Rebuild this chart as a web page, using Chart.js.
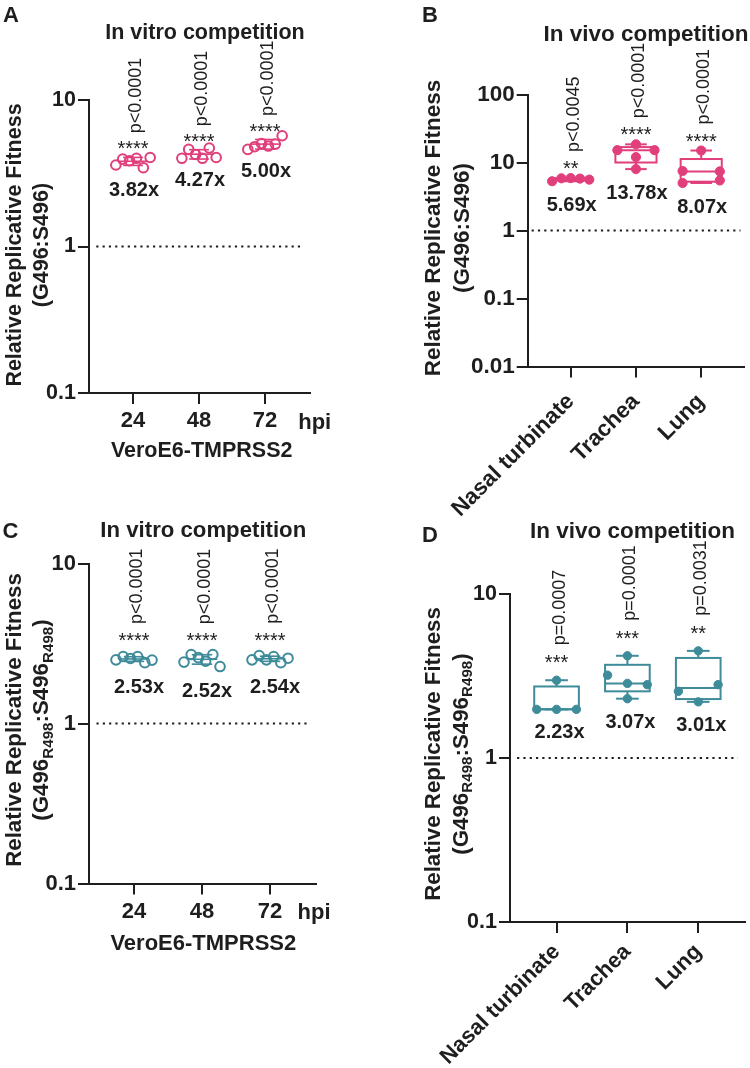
<!DOCTYPE html>
<html>
<head>
<meta charset="utf-8">
<script src="https://cdn.jsdelivr.net/npm/chart.js@4.4.1/dist/chart.umd.min.js"></script>
<style>
  html, body { margin:0; padding:0; background:#fff; }
  body { width:750px; height:1068px; position:relative; overflow:hidden;
         font-family:"Liberation Sans", Arial, Helvetica, sans-serif; color:#1e1e1e; }
  .t { position:absolute; white-space:nowrap; font-weight:bold; line-height:1;
       transform:translate(-50%,-50%); }
  .rot { transform:translate(-50%,-50%) rotate(-90deg); text-align:center; }
  .rot sub { font-size:68%; vertical-align:-0.28em; line-height:0; }
  canvas { position:absolute; }
</style>
</head>
<body>
<canvas id="cA" width="375" height="470" style="left:0;top:0"></canvas>
<canvas id="cB" width="375" height="520" style="left:375px;top:0"></canvas>
<canvas id="cC" width="375" height="480" style="left:0;top:520px"></canvas>
<canvas id="cD" width="375" height="548" style="left:375px;top:520px"></canvas>

<!-- panel letters -->
<div class="t" style="left:11px;top:14.7px;font-size:22px">A</div>
<div class="t" style="left:430px;top:14.7px;font-size:22px">B</div>
<div class="t" style="left:10.5px;top:531.3px;font-size:22px">C</div>
<div class="t" style="left:430px;top:535px;font-size:22px">D</div>

<!-- titles -->
<div class="t" style="left:205px;top:33.4px;font-size:21.5px">In vitro competition</div>
<div class="t" style="left:646px;top:33.8px;font-size:22.5px">In vivo competition</div>
<div class="t" style="left:203.3px;top:530px;font-size:22.2px">In vitro competition</div>
<div class="t" style="left:632.5px;top:530.5px;font-size:22.5px">In vivo competition</div>

<!-- y-axis titles -->
<div class="t rot" style="left:27.5px;top:245px;font-size:21.5px;line-height:27px">Relative Replicative Fitness<br>(G496:S496)</div>
<div class="t rot" style="left:447px;top:228px;font-size:22.5px;line-height:29px">Relative Replicative Fitness<br>(G496:S496)</div>
<div class="t rot" style="left:27.5px;top:720px;font-size:22.3px;line-height:26.6px">Relative Replicative Fitness<br>(G496<sub>R498</sub>:S496<sub>R498</sub>)</div>
<div class="t rot" style="left:446.6px;top:754px;font-size:22.3px;line-height:28.3px">Relative Replicative Fitness<br>(G496<sub>R498</sub>:S496<sub>R498</sub>)</div>

<!-- x-axis titles and units -->
<div class="t" style="left:201.7px;top:450.5px;font-size:21.5px">VeroE6-TMPRSS2</div>
<div class="t" style="left:203.3px;top:943.3px;font-size:22px">VeroE6-TMPRSS2</div>
<div class="t" style="left:314.7px;top:421.5px;font-size:22px">hpi</div>
<div class="t" style="left:314px;top:911.7px;font-size:22px">hpi</div>

<script>
// ---------------- DATA ----------------
const hpiLabels    = ['24', '48', '72'];
const tissueLabels = ['Nasal turbinate', 'Trachea', 'Lung'];

// shared reference level (dotted line)
const referenceLevel = 1;

// Panel A: G496:S496, VeroE6-TMPRSS2 (replicates per time point)
const aHpi24 = [3.6, 3.95, 3.85, 4.0, 3.45, 4.05];
const aHpi48 = [4.0, 4.6, 4.25, 4.0, 4.7, 4.05];
const aHpi72 = [4.6, 4.8, 5.05, 4.85, 5.0, 5.7];
const aFold  = ['3.82x', '4.27x', '5.00x'];
const aStars = ['****', '****', '****'];
const aPvals = ['p<0.0001', 'p<0.0001', 'p<0.0001'];
const aYTicks = [0.1, 1, 10];
const aYTickLabels = ['0.1', '1', '10'];

// Panel B: G496:S496, hamsters (per animal)
const bNasal   = [5.3, 5.85, 5.9, 5.8, 5.6];
const bTrachea = [18.5, 15.2, 15.2, 12, 8];
const bLung    = [15, 7.5, 7.4, 5.0, 5.45];
const bFold  = ['5.69x', '13.78x', '8.07x'];
const bStars = ['**', '****', '****'];
const bPvals = ['p<0.0045', 'p<0.0001', 'p<0.0001'];
const bYTicks = [0.01, 0.1, 1, 10, 100];
const bYTickLabels = ['0.01', '0.1', '1', '10', '100'];

// Panel C: G496R498:S496R498, VeroE6-TMPRSS2
const cHpi24 = [2.5, 2.62, 2.55, 2.62, 2.4, 2.49];
const cHpi48 = [2.42, 2.7, 2.58, 2.45, 2.7, 2.27];
const cHpi72 = [2.5, 2.66, 2.5, 2.62, 2.4, 2.56];
const cFold  = ['2.53x', '2.52x', '2.54x'];
const cStars = ['****', '****', '****'];
const cPvals = ['p<0.0001', 'p<0.0001', 'p<0.0001'];
const cYTicks = [0.1, 1, 10];
const cYTickLabels = ['0.1', '1', '10'];

// Panel D: G496R498:S496R498, hamsters
const dNasal   = [1.98, 2.98, 1.98, 1.98];
const dTrachea = [4.2, 3.2, 2.85, 2.8, 2.3];
const dLung    = [4.5, 2.55, 2.8, 2.2];
const dFold  = ['2.23x', '3.07x', '3.01x'];
const dStars = ['***', '***', '**'];
const dPvals = ['p=0.0007', 'p=0.0001', 'p=0.0031'];
const dYTicks = [0.1, 1, 10];
const dYTickLabels = ['0.1', '1', '10'];

// ---------------- STYLE ----------------
const INK = '#1e1e1e';
const PINK = '#e03f7c';
const TEAL = '#3e8b9a';
const FAMILY = '"Liberation Sans", Arial, Helvetica, sans-serif';

// ---------------- HELPERS ----------------
function quant(sorted, p) {
  const n = sorted.length;
  let pos = p * (n + 1);
  if (pos < 1) pos = 1;
  if (pos > n) pos = n;
  const lo = Math.floor(pos), hi = Math.ceil(pos);
  return sorted[lo - 1] + (pos - lo) * (sorted[hi - 1] - sorted[lo - 1]);
}
function stats(vals) {
  const s = vals.slice().sort((a, b) => a - b);
  const n = s.length;
  const mean = s.reduce((a, b) => a + b, 0) / n;
  const sd = Math.sqrt(s.reduce((a, b) => a + (b - mean) * (b - mean), 0) / (n - 1));
  return { min: s[0], max: s[n - 1], q1: quant(s, 0.25), med: quant(s, 0.5), q3: quant(s, 0.75), mean, sd };
}
// spread points that sit at similar heights side by side (rows in log space)
function spreadOffsets(vals, rowLog, spread) {
  const order = vals.map((v, i) => i).sort((a, b) => vals[b] - vals[a]);
  const off = new Array(vals.length).fill(0);
  let row = [], start = null;
  const flush = () => {
    row.sort((a, b) => a - b);
    const k = row.length;
    row.forEach((i, j) => { off[i] = k > 1 ? (j / (k - 1) - 0.5) * spread : 0; });
    row = [];
  };
  order.forEach(i => {
    const lv = Math.log10(vals[i]);
    if (start !== null && start - lv > rowLog) { flush(); start = null; }
    if (start === null) start = lv;
    row.push(i);
  });
  flush();
  return off;
}
const font = (size, weight) => `${weight || 'normal'} ${size}px ${FAMILY}`;

function makePanel(P) {
  const loc = { l: P.area.L - P.page.x, t: P.area.T - P.page.y, r: P.area.R - P.page.x, b: P.area.B - P.page.y };
  const AXW = loc.l - 1, AXH = P.page.h - loc.b - 1;
  const padding = { left: 1, top: loc.t, right: P.page.w - loc.r, bottom: 1 };

  const groupStats = P.groups.map(stats);
  const datasets = [];
  // reference (dotted) line at y = referenceLevel
  datasets.push({
    type: 'line',
    data: [{ x: P.xMin + P.refInset, y: referenceLevel }, { x: P.xMax - P.refInset, y: referenceLevel }],
    borderColor: INK, borderWidth: 2.2, borderDash: [2.2, 4.1], borderCapStyle: 'butt',
    pointRadius: 0, fill: false, clip: false, order: 5
  });
  P.groups.forEach((vals, gi) => {
    const offs = spreadOffsets(vals, P.rowLog, P.spread);
    datasets.push({
      type: 'scatter',
      data: vals.map((v, i) => ({ x: gi + 1 + offs[i], y: v })),
      pointRadius: P.radius,
      pointBorderWidth: P.borderW,
      pointBorderColor: P.color,
      pointBackgroundColor: P.filled ? P.color : 'rgba(255,255,255,0)',
      showLine: false, clip: false, order: 1
    });
  });

  const plugin = {
    id: 'annot' + P.canvas,
    beforeDatasetsDraw(chart) {
      const { ctx } = chart;
      const xs = chart.scales.x, ys = chart.scales.y;
      ctx.save();
      ctx.strokeStyle = P.color;
      groupStats.forEach((st, gi) => {
        const xc = xs.getPixelForValue(gi + 1);
        const halfW = w => (xs.getPixelForValue(gi + 1 + w / 2) - xc);
        const seg = (x1, y1, x2, y2) => { ctx.beginPath(); ctx.moveTo(x1, y1); ctx.lineTo(x2, y2); ctx.stroke(); };
        if (P.kind === 'mean') {
          ctx.lineWidth = 1.6;
          const ym = ys.getPixelForValue(st.mean);
          const yHi = ys.getPixelForValue(st.mean + st.sd);
          const yLo = ys.getPixelForValue(st.mean - st.sd);
          const mw = halfW(P.meanW), cw = halfW(P.capW);
          seg(xc - mw, ym, xc + mw, ym);
          seg(xc, yHi, xc, yLo);
          seg(xc - cw, yHi, xc + cw, yHi);
          seg(xc - cw, yLo, xc + cw, yLo);
        } else {
          ctx.lineWidth = 2;
          const bw = halfW(P.boxW), cw = halfW(P.capW);
          const yq1 = ys.getPixelForValue(st.q1), yq3 = ys.getPixelForValue(st.q3);
          const ymed = ys.getPixelForValue(st.med);
          const ymin = ys.getPixelForValue(st.min), ymax = ys.getPixelForValue(st.max);
          ctx.strokeRect(xc - bw, yq3, 2 * bw, yq1 - yq3);
          seg(xc - bw, ymed, xc + bw, ymed);
          seg(xc, yq3, xc, ymax);
          seg(xc - cw, ymax, xc + cw, ymax);
          seg(xc, yq1, xc, ymin);
          seg(xc - cw, ymin, xc + cw, ymin);
        }
      });
      ctx.restore();
    },
    afterDatasetsDraw(chart) {
      const { ctx } = chart;
      const xs = chart.scales.x, ys = chart.scales.y;
      ctx.save();
      ctx.fillStyle = INK;
      groupStats.forEach((st, gi) => {
        const xc = xs.getPixelForValue(gi + 1);
        // significance stars
        const anchor = P.starAnchor === 'mean' ? st.mean : st.max;
        const starBottom = ys.getPixelForValue(anchor) - P.starGap;
        ctx.font = font(P.starFont);
        ctx.textAlign = 'center';
        ctx.textBaseline = 'alphabetic';
        const sm = ctx.measureText(P.stars[gi]);
        const starBase = starBottom - sm.actualBoundingBoxDescent;
        const starTop = starBase - sm.actualBoundingBoxAscent;
        ctx.fillText(P.stars[gi], xc, starBase);
        // rotated p value
        ctx.save();
        ctx.font = font(P.pFont);
        ctx.translate(xc + P.pDx, starTop - P.pGap);
        ctx.rotate(-Math.PI / 2);
        ctx.textAlign = 'left';
        ctx.textBaseline = 'middle';
        ctx.fillText(P.pvals[gi], 0, 0);
        ctx.restore();
        // fold change label
        ctx.font = font(P.foldFont, 'bold');
        ctx.textAlign = 'center';
        ctx.textBaseline = 'alphabetic';
        const capH = ctx.measureText('0').actualBoundingBoxAscent;
        const capTop = ys.getPixelForValue(st.min) + P.foldGap;
        ctx.fillText(P.folds[gi], xc + P.foldDx, capTop + capH);
      });
      ctx.restore();
    }
  };

  return new Chart(document.getElementById(P.canvas), {
    data: { datasets },
    plugins: [plugin],
    options: {
      responsive: false, animation: false, devicePixelRatio: 1, events: [],
      layout: { padding },
      plugins: { legend: { display: false }, tooltip: { enabled: false }, title: { display: false } },
      scales: {
        x: {
          type: 'linear', min: P.xMin, max: P.xMax,
          afterBuildTicks: s => { s.ticks = P.cats.map((c, i) => ({ value: i + 1 })); },
          afterFit: s => { s.height = AXH; },
          ticks: {
            callback: v => P.cats[Math.round(v) - 1] || '',
            font: { family: FAMILY, size: P.catFont, weight: 'bold' },
            color: INK, padding: P.catPad, autoSkip: false,
            maxRotation: P.catRot, minRotation: P.catRot
          },
          grid: { display: true, drawOnChartArea: false, drawTicks: true, tickLength: 11, lineWidth: 2, color: INK },
          border: { display: true, width: 2, color: INK }
        },
        y: {
          type: 'logarithmic', min: P.yTicks[0], max: P.yTicks[P.yTicks.length - 1],
          afterBuildTicks: s => { s.ticks = P.yTicks.map(v => ({ value: v })); },
          afterFit: s => { s.width = AXW; },
          ticks: {
            callback: v => {
              const i = P.yTicks.findIndex(t => Math.abs(t - v) / t < 1e-6);
              return i >= 0 ? P.yTickLabels[i] : '';
            },
            font: { family: FAMILY, size: P.tickFont, weight: 'bold' },
            color: INK, padding: 2, autoSkip: false
          },
          grid: { display: true, drawOnChartArea: false, drawTicks: true, tickLength: 11, lineWidth: 2, color: INK },
          border: { display: true, width: 2, color: INK }
        }
      }
    }
  });
}

const common = { starFont: 20, pFont: 18, foldFont: 20, pDx: 3 };

makePanel(Object.assign({}, common, {
  canvas: 'cA', page: { x: 0, y: 0, w: 375, h: 470 }, area: { L: 89, T: 100, R: 310, B: 393 },
  xMin: 0.333, xMax: 3.682, refInset: 0.11,
  cats: hpiLabels, catFont: 22, catRot: 0, catPad: 4, tickFont: 21.5,
  groups: [aHpi24, aHpi48, aHpi72], folds: aFold, stars: aStars, pvals: aPvals,
  yTicks: aYTicks, yTickLabels: aYTickLabels,
  kind: 'mean', color: PINK, filled: false, radius: 4.8, borderW: 2,
  rowLog: 1, spread: 0.52, meanW: 0.45, capW: 0.3,
  starAnchor: 'mean', starGap: 12, pGap: 8, foldGap: 14, foldDx: 1
}));

makePanel(Object.assign({}, common, {
  canvas: 'cB', page: { x: 375, y: 0, w: 375, h: 520 }, area: { L: 527.7, T: 94.5, R: 748, B: 366.5 },
  xMin: 0.341, xMax: 3.662, refInset: 0.06,
  cats: tissueLabels, catFont: 22.5, catRot: 45, catPad: 11, tickFont: 22.5,
  groups: [bNasal, bTrachea, bLung], folds: bFold, stars: bStars, pvals: bPvals,
  yTicks: bYTicks, yTickLabels: bYTickLabels,
  kind: 'box', color: PINK, filled: true, radius: 4.6, borderW: 1,
  rowLog: 0.074, spread: 0.57, boxW: 0.63, capW: 0.33,
  starAnchor: 'max', starGap: 9, pGap: 9, foldGap: 16, foldDx: 1
}));

makePanel(Object.assign({}, common, {
  canvas: 'cC', page: { x: 0, y: 520, w: 375, h: 480 }, area: { L: 89, T: 563.5, R: 316, B: 883.5 },
  xMin: 0.338, xMax: 3.676, refInset: 0.11,
  cats: hpiLabels, catFont: 22, catRot: 0, catPad: 4, tickFont: 22,
  groups: [cHpi24, cHpi48, cHpi72], folds: cFold, stars: cStars, pvals: cPvals,
  yTicks: cYTicks, yTickLabels: cYTickLabels,
  kind: 'mean', color: TEAL, filled: false, radius: 4.8, borderW: 2,
  rowLog: 1, spread: 0.53, meanW: 0.45, capW: 0.3,
  starAnchor: 'mean', starGap: 18, pGap: 9, foldGap: 16, foldDx: 5
}));

makePanel(Object.assign({}, common, {
  canvas: 'cD', page: { x: 375, y: 520, w: 375, h: 548 }, area: { L: 510, T: 594, R: 748, B: 922 },
  xMin: 0.343, xMax: 3.657, refInset: 0.1,
  cats: tissueLabels, catFont: 22, catRot: 45, catPad: 6, tickFont: 21.5,
  groups: [dNasal, dTrachea, dLung], folds: dFold, stars: dStars, pvals: dPvals,
  yTicks: dYTicks, yTickLabels: dYTickLabels,
  kind: 'box', color: TEAL, filled: true, radius: 4.2, borderW: 1,
  rowLog: 0.067, spread: 0.56, boxW: 0.63, capW: 0.32,
  starAnchor: 'max', starGap: 17, pGap: 10, foldGap: 15, foldDx: 3
}));
</script>
</body>
</html>
